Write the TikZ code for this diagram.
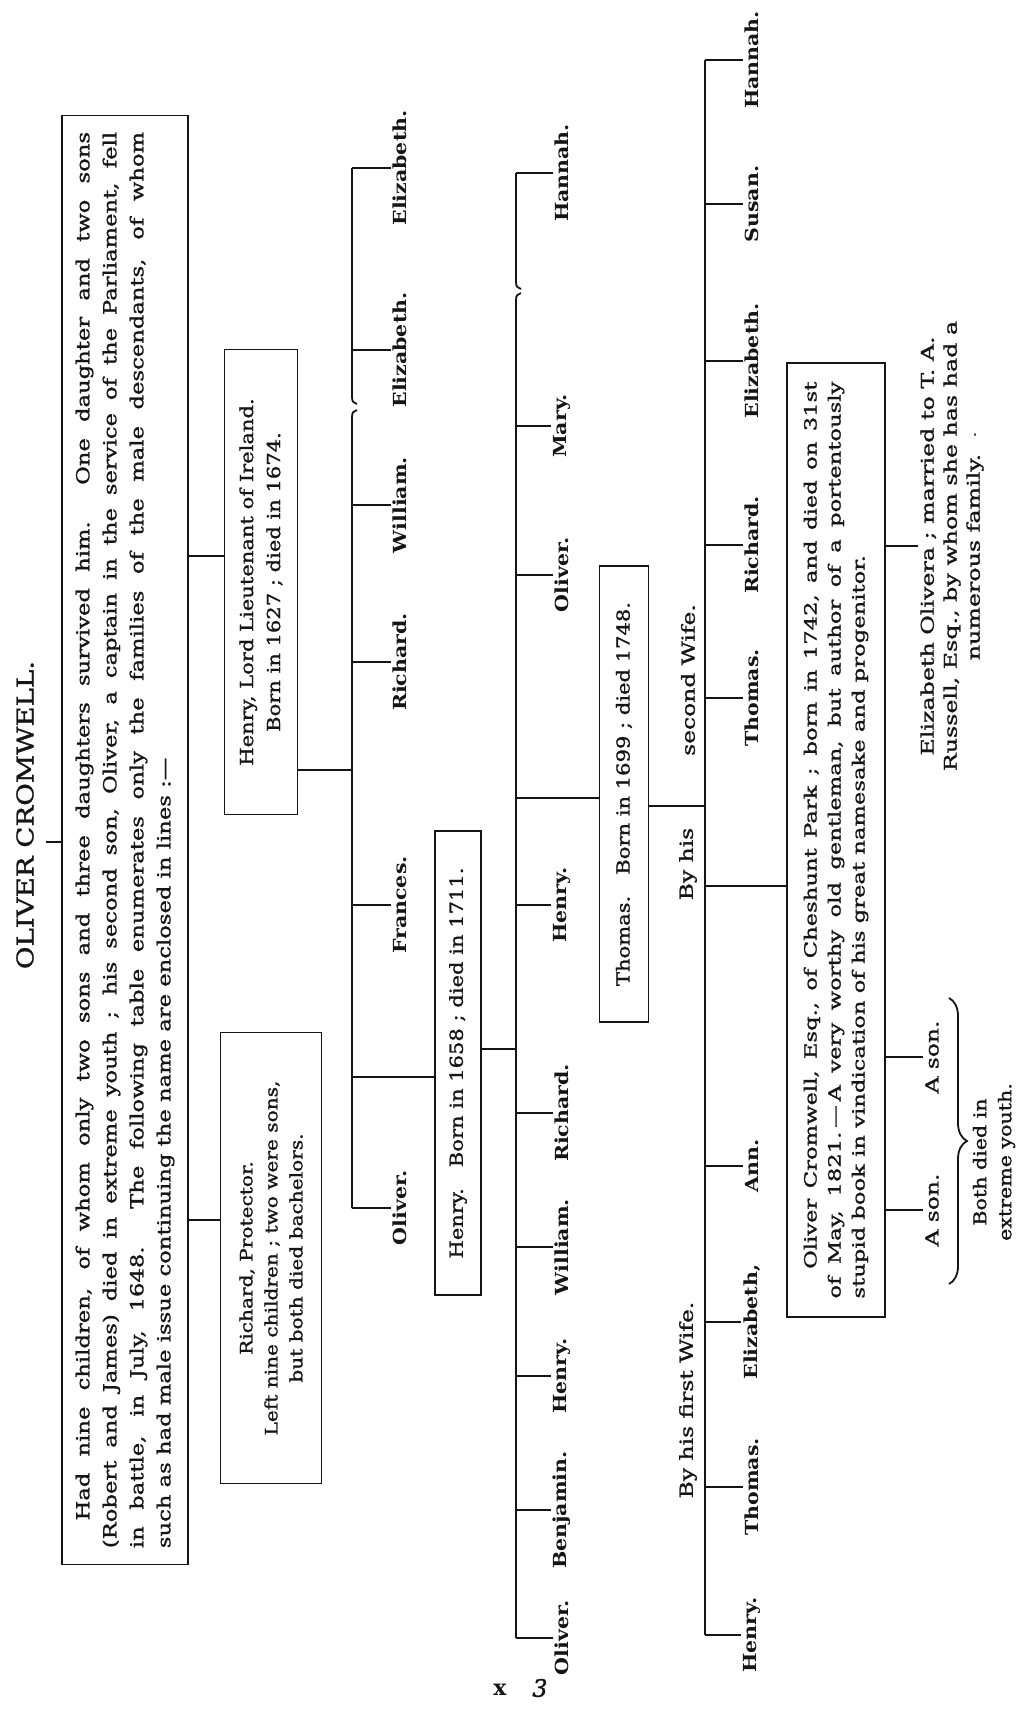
\documentclass[tikz,border=0pt]{standalone}
\usepackage{fontspec}
\setmainfont{DejaVu Serif}
\newfontfamily\body{DejaVu Serif}[Ligatures=TeX, FakeBold=1.2]
\usetikzlibrary{positioning,decorations.pathreplacing}
\definecolor{ink}{HTML}{151515}
\tikzset{
  txt/.style={rotate=90, xscale=#1, inner sep=1pt, text=ink},
  txt/.default=1.17,
  kid/.style={txt=1.14, font=\bfseries\fontsize{9}{11}\selectfont},
  boxed/.style={txt=#1, draw=ink, line width=0.9pt, align=center, inner sep=0pt},
  bond/.style={draw=ink, line width=0.9pt},
}

\begin{document}
\begin{tikzpicture}[x=0.5pt, y=-0.5pt]
  \fill[white] (0,0) rectangle (1024,1715); % the page
  \useasboundingbox (0,0) rectangle (1024,1715);

  % rows of the ticks and the family bars
  \coordinate (topTick) at (0,842);
  \coordinate (henTick) at (0,556);
  \coordinate (richTick) at (0,1220);
  \coordinate (henDown) at (0,770);
  \coordinate (hlink) at (0,1077);
  \coordinate (h2down) at (0,1049);
  \coordinate (tlink) at (0,798);
  \coordinate (tdown) at (0,806);
  \coordinate (olink) at (0,886);
  \coordinate (barA) at (352,0);
  \coordinate (barB) at (516,0);
  \coordinate (barC) at (705,0);

  \node[txt=1.2, font=\body\fontsize{11.5}{14}\selectfont] (cromwell) at (25,815) {OLIVER CROMWELL.};
  \node[boxed=1.26, align=justify, text width=562pt, minimum width=575pt, minimum height=63pt, font=\body\fontsize{9}{13.5}\selectfont] (summary) at (125,840)
    {\hspace*{11pt}Had nine children, of whom only two sons and three daughters survived him. One daughter and two sons\linebreak
     (Robert and James) died in extreme youth~; his second son, Oliver, a captain in the service of the Parliament, fell\linebreak
     in battle, in July, 1648. The following table enumerates only the families of the male descendants, of whom\linebreak
     such as had male issue continuing the name are enclosed in lines~:---};
  \draw[bond, shorten <=5pt] (cromwell.south |- topTick) -- (summary.north |- topTick); % tick from the name to the note

  \node[boxed=1.17, minimum width=198.7pt, minimum height=36.5pt, font=\body\fontsize{9}{13.5}\selectfont] (henry) at (261,582)
    {Henry, Lord Lieutenant of Ireland.\\Born in 1627~; died in 1674.};
  \node[boxed=1.17, minimum width=192.7pt, minimum height=50.5pt, font=\body\fontsize{8.6}{12.5}\selectfont] (richard) at (271,1258)
    {Richard, Protector.\\Left nine children~; two were sons,\\but both died bachelors.};
  \draw[bond] (summary.south |- henTick) -- (henry.north |- henTick);
  \draw[bond] (summary.south |- richTick) -- (richard.north |- richTick);

  % children of Henry
  \foreach \who/\at [count=\i] in {Oliver./1208, Frances./905, Richard./662, William./505, Elizabeth./350, Elizabeth./168}
    {\node[kid] (a\i) at (400,\at) {\who};
     \draw[bond] (barA |- a\i) -- (a\i.north);}
  \draw[bond] (barA |- a6) -- (352,397) .. controls (352,402) and (354,403) .. (357,404); % bar, broken with a curl
  \draw[bond] (357,410) .. controls (354,411) and (352,412) .. (352,417) -- (barA |- a1);
  \draw[bond] (henry.south |- henDown) -- (barA |- henDown);

  \node[boxed=1.17, minimum width=198.3pt, minimum height=23pt, font=\body\fontsize{9}{12}\selectfont] (henryjr) at (458,1063)
    {Henry.\quad Born in 1658~; died in 1711.};
  \draw[bond] (barA |- hlink) -- (henryjr.north |- hlink);

  % children of the second Henry
  \foreach \who/\at [count=\i] in {Oliver./1638, Benjamin./1510, Henry./1376, William./1247, Richard./1113, Henry./905, Oliver./575, Mary./426, Hannah./173}
    {\node[kid] (b\i) at (562,\at) {\who};
     \draw[bond] (barB |- b\i) -- (b\i.north);}
  \draw[bond] (barB |- b1) -- (516,300) .. controls (516,295) and (518,294) .. (521,293);
  \draw[bond] (521,289) .. controls (518,288) and (516,287) .. (516,282) -- (barB |- b9);
  \draw[bond] (henryjr.south |- h2down) -- (barB |- h2down);

  \node[boxed=1.17, minimum width=194.9pt, minimum height=24.5pt, font=\body\fontsize{9}{12}\selectfont] (thomas) at (624,794)
    {Thomas.\quad Born in 1699~; died 1748.};
  \draw[bond] (barB |- tlink) -- (thomas.north |- tlink);

  % children of Thomas, by both wives
  \node[txt=1.3, font=\body\fontsize{9}{11}\selectfont] (firstwife) at (688,1400) {By his first Wife.};
  \node[txt=1.3, font=\body\fontsize{9}{11}\selectfont] (byhis) at (688,864) {By his};
  \node[txt=1.3, font=\body\fontsize{9}{11}\selectfont] (secondwife) at (688,680) {second Wife.};
  \foreach \who/\at [count=\i] in {Henry./1635, Thomas./1487, {Elizabeth,}/1322, Ann./1166, Thomas./698, Richard./545, Elizabeth./361, Susan./204, Hannah./60}
    {\node[kid] (c\i) at (752,\at) {\who};
     \draw[bond] (barC |- c\i) -- (c\i.north);}
  \draw[bond] (barC |- c1) -- (barC |- c9);
  \draw[bond] (thomas.south |- tdown) -- (barC |- tdown);

  \node[boxed=1.35, align=justify, text width=339.6pt, minimum width=353.3pt, minimum height=49pt, font=\body\fontsize{8.4}{12}\selectfont] (esq) at (836,840)
    {\hspace*{11pt}Oliver Cromwell, Esq., of Cheshunt Park~; born in 1742, and died on 31st\linebreak
     of May, 1821.\,---\,A very worthy old gentleman, but author of a portentously\linebreak
     stupid book in vindication of his great namesake and progenitor.};
  \draw[bond] (barC |- olink) -- (esq.north |- olink);

  % his issue
  \node[txt=1.3, font=\body\fontsize{9}{11}\selectfont] (sonA) at (932,1210) {A son.};
  \node[txt=1.3, font=\body\fontsize{9}{11}\selectfont] (sonB) at (932,1057) {A son.};
  \node[txt=1.35, align=center, font=\body\fontsize{8.8}{11.5}\selectfont] (elizo) at (952,546)
    {Elizabeth Olivera~; married to T.~A.\\Russell, Esq., by whom she has had a\\numerous family.~~$\cdot$};
  \draw[bond] (esq.south |- sonA) -- (sonA.north);
  \draw[bond] (esq.south |- sonB) -- (sonB.north);
  \draw[bond] (esq.south |- elizo) -- (elizo.north);
  \draw[bond, decorate, decoration={brace, amplitude=9pt}] (949,998) -- (949,1284); % brace under the two sons
  \node[txt=1.17, align=center, font=\body\fontsize{8.8}{12.5}\selectfont] (both) at (994,1162) {Both died in\\extreme youth.};

  \node[text=ink, font=\bfseries\fontsize{11}{13}\selectfont] (xmark) at (500,1690) {x};
  \node[text=ink, font=\body\itshape\fontsize{12}{14}\selectfont] (threemark) at (540,1688) {3};
\end{tikzpicture}
\end{document}
